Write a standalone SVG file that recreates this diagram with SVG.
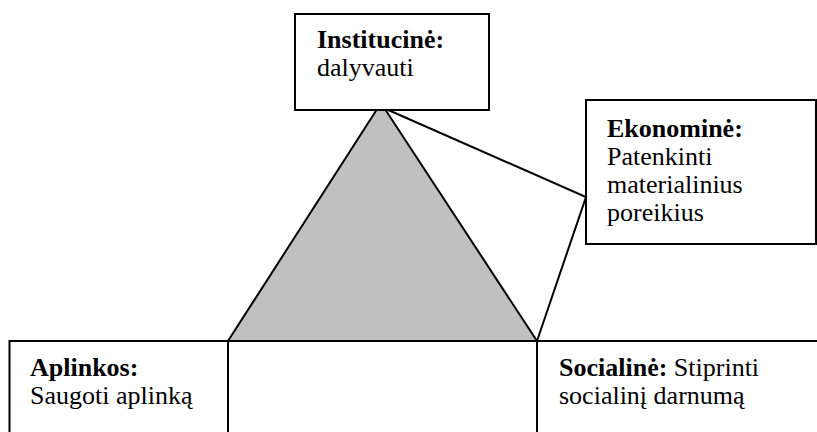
<svg xmlns="http://www.w3.org/2000/svg" width="817" height="432" viewBox="0 0 817 432">
<style>
.box{fill:#fff;stroke:#000;stroke-width:2}
.ln{fill:none;stroke:#000;stroke-width:2}
.t{font-family:'Liberation Serif','Times New Roman',Times,serif;font-size:26px;fill:#000}
.b{font-weight:bold}
</style>
<rect width="817" height="432" fill="#fff"/>
<g id="connectors">
<polygon points="381,103 228,341 537,341" fill="#c0c0c0" stroke="#000" stroke-width="2"/>
<polyline class="ln" points="386,109 586,197 537,341"/>
</g>
<g id="institucine" class="t">
<rect class="box" x="295" y="14" width="194" height="96"/>
<text x="317" y="48" class="b">Institucinė:</text>
<text x="317" y="76">dalyvauti</text>
</g>
<g id="ekonomine" class="t">
<rect class="box" x="586" y="100" width="230" height="144"/>
<text x="607" y="137" class="b">Ekonominė:</text>
<text x="607" y="165">Patenkinti</text>
<text x="607" y="193">materialinius</text>
<text x="607" y="221">poreikius</text>
</g>
<g id="bottom">
<rect class="box" x="9.5" y="341" width="900" height="200"/>
<line class="ln" x1="228" y1="341" x2="228" y2="432"/>
<line class="ln" x1="537" y1="341" x2="537" y2="432"/>
</g>
<g id="aplinkos" class="t">
<text x="30" y="376" class="b">Aplinkos:</text>
<text x="30" y="404">Saugoti aplinką</text>
</g>
<g id="socialine" class="t">
<text x="559" y="376"><tspan class="b">Socialinė:</tspan> Stiprinti</text>
<text x="559" y="404">socialinį darnumą</text>
</g>
</svg>
